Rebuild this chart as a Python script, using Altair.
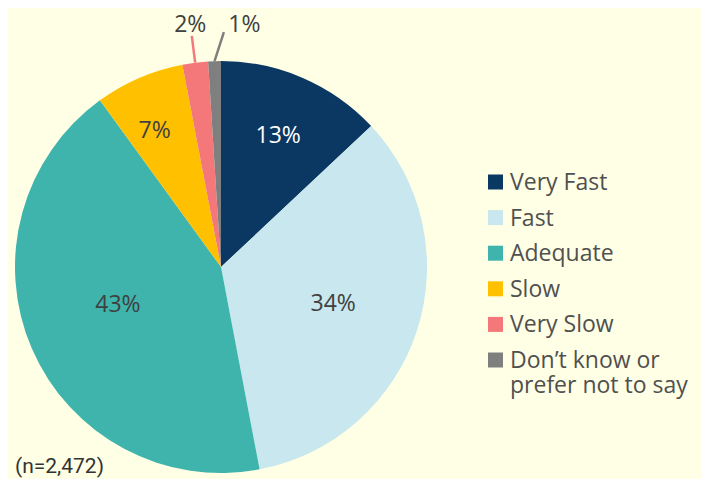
import math
import altair as alt
import pandas as pd

# ---- data ----
categories = ["Very Fast", "Fast", "Adequate", "Slow", "Very Slow",
              "Don't know or prefer not to say"]
legend_text = ["Very Fast", "Fast", "Adequate", "Slow", "Very Slow",
               "Don\u2019t know or\nprefer not to say"]
values = [13, 34, 43, 7, 2, 1]
colors = ["#0B3862", "#C8E7EE", "#3EB4AD", "#FFC000", "#F4777A", "#7F7F7F"]
note = "(n=2,472)"

# ---- layout constants ----
FONT = "Open Sans"
CX, CY, R = 213, 259, 206
BG = "#FFFFE5"
FS = 23

df = pd.DataFrame({
    "cat": categories,
    "legend": legend_text,
    "value": values,
    "order": list(range(len(values))),
})
df["label"] = df["value"].astype(str) + "%"

color = alt.Color("cat:N", scale=alt.Scale(domain=categories, range=colors), legend=None)

base = alt.Chart(df).encode(
    theta=alt.Theta("value:Q", stack=True),
    order=alt.Order("order:Q"),
    x=alt.value(CX),
    y=alt.value(CY),
)

pie = base.mark_arc(radius=R).encode(color=color)


def label(cat, radius, dx=0, dy=0, col="#404040"):
    return base.mark_text(
        radius=radius, dx=dx, dy=dy, font=FONT, fontSize=FS, color=col,
        baseline="middle", align="center"
    ).encode(text=alt.condition(alt.datum.cat == cat, alt.Text("label:N"), alt.value("")))


labels = [
    label("Very Fast", 144, 0, 1, "#FFFFFF"),
    label("Fast", 118, 0, 1),
    label("Adequate", 109, -3, -5),
    label("Slow", 152, -6, 3),
    label("Very Slow", 245, 0, 1),
    label(categories[5], 245, 31, 3),
]

# leader lines for the two small slices (derived from the slice mid-angles)
total = sum(values)
cum = 0.0
rows = []
leader_spec = {"Very Slow": (233, 0.0), categories[5]: (235, 2.5)}
for c, v in zip(categories, values):
    mid = (cum + v / 2) / total * 2 * math.pi
    cum += v
    if c in leader_spec:
        r2, off = leader_spec[c]
        a2 = mid + math.radians(off)
        rows.append({
            "cat": c,
            "x1": CX + R * math.sin(mid), "y1": CY - R * math.cos(mid),
            "x2": CX + r2 * math.sin(a2), "y2": CY - r2 * math.cos(a2),
        })
lead_df = pd.DataFrame(rows)
leaders = alt.Chart(lead_df).mark_rule(strokeWidth=2.5).encode(
    x=alt.X("x1:Q", scale=None), y=alt.Y("y1:Q", scale=None),
    x2="x2:Q", y2="y2:Q", color=color,
)

# manual legend
leg_y = alt.Y("cat:N", scale=alt.Scale(type="point", domain=categories,
                                        range=[174, 352], padding=0), axis=None)
legend_sq = alt.Chart(df).mark_square(size=225, opacity=1).encode(
    x=alt.value(487.5), y=leg_y, color=color)
legend_tx = alt.Chart(df).mark_text(
    align="left", baseline="alphabetic", dy=8, lineBreak="\n", lineHeight=25,
    fontSize=FS, font=FONT, color="#505050"
).encode(x=alt.value(502), y=leg_y, text="legend:N")

note_layer = alt.Chart(pd.DataFrame({"t": [note]})).mark_text(
    align="left", baseline="alphabetic", fontSize=21, font="Roboto", color="#333333"
).encode(x=alt.value(7), y=alt.value(465), text="t:N")

chart = alt.layer(
    pie, leaders, *labels, legend_sq, legend_tx, note_layer
).resolve_scale(x="independent", y="independent").properties(
    width=694, height=471, padding=0,
    autosize=alt.AutoSizeParams(type="none"),
    background=BG,
).configure_view(stroke=None)

chart.save("out.html", embed_options={"renderer": "svg", "actions": False})
